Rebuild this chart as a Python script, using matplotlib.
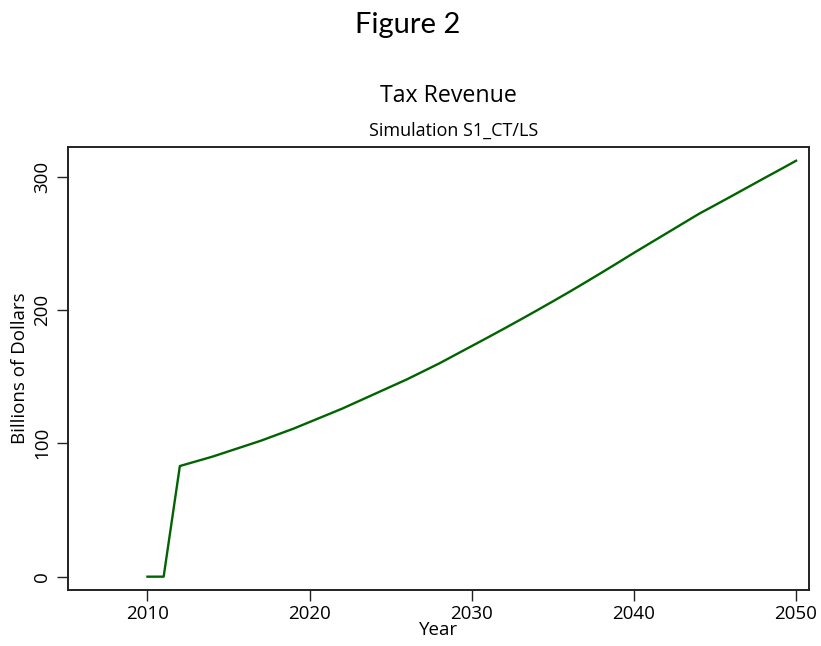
import matplotlib
matplotlib.use('Agg')
import matplotlib.pyplot as plt

# ==============================================================
# data
years = list(range(2010, 2051))
revenue = [
    0, 0, 83, 86.5, 90, 94, 98, 102, 106.5, 111,                     # 2010-2019
    116, 121, 126, 131.5, 137, 142.5, 148, 154, 160, 166.5,          # 2020-2029
    173, 179.5, 186.1, 192.8, 199.6, 206.5, 213.5, 220.7, 228, 235.4,  # 2030-2039
    242.9, 250.2, 257.5, 264.8, 272.1, 278.7, 285.3, 292, 298.7, 305.3,  # 2040-2049
    312,                                                             # 2050
]
x_ticks = [2010, 2020, 2030, 2040, 2050]
y_ticks = [0, 100, 200, 300]

plt.rcParams['font.family'] = ['Open Sans', 'DejaVu Sans']

fig = plt.figure(figsize=(8.21, 6.46), dpi=100)
ax = fig.add_axes([0.0828, 0.0867, 0.9026, 0.6857])

ax.plot(years, revenue, color='#006400', linewidth=1.7)

ax.set_xlim(2005.1, 2050.8)
ax.set_ylim(-10, 322.3)
ax.set_xticks(x_ticks)
ax.set_yticks(y_ticks)
ax.set_yticklabels([str(v) for v in y_ticks], rotation=90, va='center')

ax.tick_params(axis='both', direction='out', length=8, width=1,
               color='#222222', labelsize=13.5, labelcolor='black')
ax.tick_params(axis='x', pad=2.5)
ax.tick_params(axis='y', pad=4)

for sp in ax.spines.values():
    sp.set_linewidth(1.4)
    sp.set_color('#222222')

ax.set_xlabel('Year', fontsize=13.5, labelpad=-1)
ax.set_ylabel('Billions of Dollars', fontsize=13.5, labelpad=3)

# titles
fig.text(0.497, 0.961, 'Figure 2', ha='center', va='center', fontsize=21,
         family=['Lato', 'DejaVu Sans'])
fig.text(0.546, 0.851, 'Tax Revenue', ha='center', va='center', fontsize=16.7)
fig.text(0.552, 0.797, 'Simulation S1_CT/LS', ha='center', va='center', fontsize=13)

fig.savefig('out.png', dpi=100)
